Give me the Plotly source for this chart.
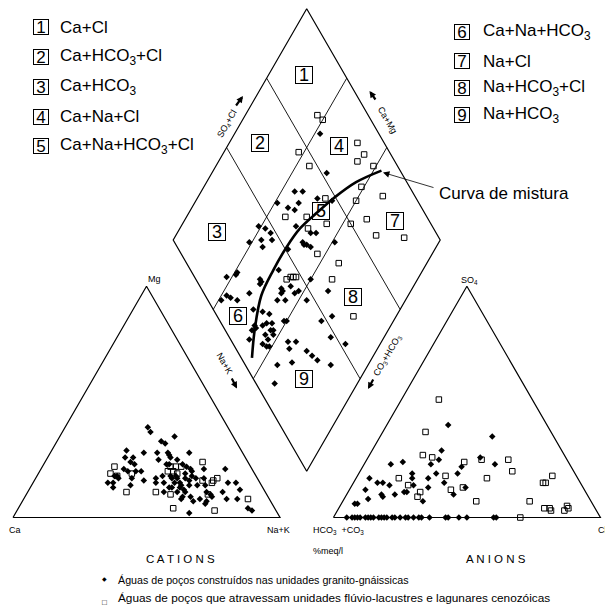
import numpy as np
import plotly.graph_objects as go

# ---------------- data (percent meq/l) ----------------
# diamond: SO4+Cl (%) and Ca+Mg (%)
dia_dot_so4cl = [78, 72, 56, 59, 47, 50, 55, 52, 63, 68, 49, 55, 53, 48, 48, 49, 50, 41, 60,
                 35, 37, 38, 33, 37, 32, 28, 17, 16, 12, 24, 24, 23, 33, 5, 8, 9, 11, 17, 30, 30,
                 34, 29, 36, 34, 26, 29, 37, 43, 47, 15, 18, 20, 24, 25, 12, 12, 15, 17, 19, 17,
                 18, 14, 14, 17, 10, 7, 11, 12, 13, 21, 24, 38, 43, 38, 26, 27, 28, 18, 42, 20,
                 12, 32, 7]
dia_dot_camg = [68, 57, 65, 62, 69, 64, 61, 61, 55, 49, 57, 48, 50, 51, 50, 49, 47, 55, 39,
                71, 68, 65, 67, 63, 65, 71, 69, 69, 72, 59, 58, 58, 54, 69, 68, 66, 63, 60, 49, 48,
                46, 48, 42, 43, 48, 45, 37, 40, 31, 55, 51, 48, 41, 40, 51, 50, 48, 47, 45, 44,
                43, 45, 43, 42, 51, 50, 44, 42, 41, 35, 32, 27, 24, 20, 26, 23, 20, 29, 13, 33,
                34, 14, 31]
dia_sq_so4cl = [81, 82, 66, 67, 90, 90, 86, 91, 82, 77, 88, 66, 47, 55, 61, 53, 70, 77, 77, 87,
                51, 57, 51, 51, 34, 36, 37, 38]
dia_sq_camg = [73, 70, 72, 65, 52, 47, 48, 41, 41, 40, 31, 52, 63, 55, 46, 52, 37, 32, 25, 14,
               43, 33, 32, 16, 49, 48, 47, 46]

# mixing curve (diamond coordinates)
curve_so4cl = [4, 11, 21, 31, 41, 50, 60, 69, 81, 93]
curve_camg = [45, 50, 55, 56, 56, 55, 52, 49, 44, 37]

# cation triangle: Mg (%) and Na+K (%)  (Ca = 100 - Mg - Na+K)
cat_dot_mg = [39, 37, 33, 32, 35, 29, 28, 28, 28, 27, 26, 28, 26, 26, 24, 23, 25, 25, 23, 23,
              23, 22, 21, 20, 21, 21, 20, 20, 20, 18, 15, 15, 13, 17, 16, 14, 17, 15, 18, 15,
              18, 17, 15, 18, 17, 15, 14, 19, 17, 16, 14, 18, 17, 14, 13, 13, 13, 12, 11, 11,
              8, 11, 17, 14, 9, 8, 11, 10, 7, 21, 15, 15, 11, 8, 8, 12, 9, 7, 6, 2, 9, 4, 3,
              17, 18]
cat_dot_nak = [31, 33, 39, 41, 43, 28, 35, 40, 44, 45, 46, 52, 29, 32, 32, 34, 42, 49, 46, 47,
               52, 54, 56, 57, 61, 31, 33, 36, 38, 30, 28, 30, 31, 36, 41, 37, 45, 46, 47, 49,
               50, 51, 53, 52, 53, 55, 56, 55, 56, 58, 59, 58, 60, 62, 52, 53, 56, 58, 59, 56,
               59, 51, 63, 65, 62, 66, 67, 69, 69, 69, 73, 76, 73, 76, 80, 79, 70, 64, 69, 65,
               59, 86, 88, 31, 29]
cat_sq_mg = [22, 19, 18, 19, 11, 11, 10, 22, 22, 22, 20, 20, 19, 24, 16, 15, 16, 17, 10, 8, 4, 3]
cat_sq_nak = [27, 27, 30, 35, 37, 48, 54, 48, 50, 52, 48, 50, 52, 59, 63, 67, 67, 68, 68, 84, 58, 74]

# anion triangle: SO4 (%) and Cl (%)  (HCO3+CO3 = 100 - SO4 - Cl)
an_dot_so4 = [40, 35, 29, 25, 26, 23, 24, 23, 23, 22, 19, 19, 19, 17, 17, 15, 17, 15, 15, 14,
              12, 11, 11, 14, 10, 10, 9, 8, 6, 6, 13, 7, 10, 13,
              0, 0, 0, 0, 0, 0, 0, 0, 0, 0, 0, 0, 0, 0, 0, 0, 0, 0, 0, 0, 0, 0, 0, 0, 0, 0, 0, 0]
an_dot_cl = [23, 42, 26, 27, 42, 49, 14, 10, 25, 37, 37, 29, 20, 21, 27, 34, 5, 9, 11, 14,
             6, 21, 22, 23, 18, 13, 14, 9, 5, 6, 29, 30, 40, 43,
             5, 7, 8, 9, 10, 12, 13, 14, 15, 17, 18, 19, 20, 22, 23, 25, 27, 28, 30, 32, 33, 36,
             42, 43, 47, 50, 60, 61]
an_sq_so4 = [51, 37, 27, 26, 24, 25, 25, 20, 17, 18, 17, 14, 11, 9, 12, 13, 7, 15, 15, 18, 7,
             4, 4, 3, 3, 5, 4, 0]
an_sq_cl = [14, 16, 20, 24, 37, 43, 53, 57, 49, 33, 16, 21, 27, 27, 38, 42, 50, 71, 72, 73, 70,
            77, 79, 80, 85, 85, 86, 70]

region_ids = ["1", "2", "3", "4", "5", "6", "7", "8", "9"]
region_names = ["Ca+Cl", "Ca+HCO<sub>3</sub>+Cl", "Ca+HCO<sub>3</sub>", "Ca+Na+Cl",
                "Ca+Na+HCO<sub>3</sub>+Cl", "Ca+Na+HCO<sub>3</sub>", "Na+Cl",
                "Na+HCO<sub>3</sub>+Cl", "Na+HCO<sub>3</sub>"]
legend_texts = ["Águas de poços construídos nas unidades granito-gnáissicas",
                "Águas de poços que atravessam unidades flúvio-lacustres e lagunares cenozóicas"]

# ---------------- geometry ----------------
SQ3 = np.sqrt(3.0)
H = 50 * SQ3
GAP = 20
AX0 = 100 + GAP
BX, BY = 110.0, GAP / 2 * SQ3
FONT = "Liberation Sans, Arial, sans-serif"

def cat_xy(mg, nak):
    mg = np.asarray(mg, float); nak = np.asarray(nak, float)
    return nak + mg / 2, mg * H / 100

def an_xy(so4, cl):
    so4 = np.asarray(so4, float); cl = np.asarray(cl, float)
    return AX0 + cl + so4 / 2, so4 * H / 100

def dia_xy(a, c):
    a = np.asarray(a, float); c = np.asarray(c, float)
    return BX + 0.5 * a - 0.5 * c, BY + (a + c) * H / 100

# pixel helper for text placement
PXU, OX, OY = 2.67, 13.0, 517.5
def P(px, py):
    return (px - OX) / PXU, (OY - py) / PXU

fig = go.Figure()

def line(xs, ys, w=1.2):
    fig.add_trace(go.Scatter(x=list(xs), y=list(ys), mode="lines",
                             line=dict(color="black", width=w), hoverinfo="skip"))

# outlines
line([0, 100, 50, 0], [0, 0, H, 0])
line([AX0, AX0 + 100, AX0 + 50, AX0], [0, 0, H, 0])
dx, dy = dia_xy([0, 100, 100, 0, 0], [0, 0, 100, 100, 0])
line(dx, dy)
# internal diamond lines
for v in (40, 70):
    x1, y1 = dia_xy([v, v], [0, 100]); line(x1, y1, 0.9)
    x2, y2 = dia_xy([0, 100], [v, v]); line(x2, y2, 0.9)

dot = dict(symbol="diamond", size=5, color="black", line=dict(width=0))
sq = dict(symbol="square-open", size=5.5, color="black", line=dict(width=1, color="black"))

def pts(xy, m):
    fig.add_trace(go.Scatter(x=xy[0], y=xy[1], mode="markers", marker=m, hoverinfo="skip"))

pts(dia_xy(dia_dot_so4cl, dia_dot_camg), dot)
pts(dia_xy(dia_sq_so4cl, dia_sq_camg), sq)
pts(cat_xy(cat_dot_mg, cat_dot_nak), dot)
pts(cat_xy(cat_sq_mg, cat_sq_nak), sq)
pts(an_xy(an_dot_so4, an_dot_cl), dot)
pts(an_xy(an_sq_so4, an_sq_cl), sq)

cx, cy = dia_xy(curve_so4cl, curve_camg)
fig.add_trace(go.Scatter(x=cx, y=cy, mode="lines", line=dict(color="black", width=2.6, shape="spline"),
                         hoverinfo="skip"))

ann = []
def txt(px, py, text, size, xa="center", ya="middle", angle=0, **kw):
    x, y = P(px, py)
    d = dict(x=x, y=y, xref="x", yref="y", text=text, showarrow=False,
             font=dict(size=size, family=FONT, color="black"), xanchor=xa, yanchor=ya,
             textangle=angle)
    d.update(kw)
    ann.append(d)

def box(px, py, text, size, w, h):
    txt(px, py, text, size, bordercolor="black", borderwidth=1, borderpad=0, width=w, height=h)

# region labels in the diamond
region_pix = [(303.7, 74.5), (260.3, 143.3), (216.5, 231.5), (339.3, 145.7), (320.7, 210.7),
              (238.3, 316.0), (395.3, 221.0), (353.3, 296.7), (304.3, 379.0)]
for rid, (px, py) in zip(region_ids, region_pix):
    box(px, py, rid, 18, 16, 16)

# class list
left_y = [27, 56.5, 86.5, 116.5, 145.5]
right_y = [32, 61, 88, 115]
for i in range(5):
    box(41, left_y[i], region_ids[i], 17, 14, 14)
    txt(58, left_y[i], region_names[i], 17, xa="left")
for i in range(4):
    box(462, right_y[i], region_ids[5 + i], 17, 14, 14)
    txt(481, right_y[i], region_names[5 + i], 17, xa="left")

# mixing curve label + leader arrow
txt(437, 193, "Curva de mistura", 17, xa="left")
hx, hy = P(383, 172.5)
tx, ty = P(435, 188)
ann.append(dict(x=hx, y=hy, xref="x", yref="y", ax=tx, ay=ty, axref="x", ayref="y", text="",
                showarrow=True, arrowhead=2, arrowsize=1.6, arrowwidth=0.8, arrowcolor="black"))

# axis labels on the diamond
txt(226.7, 124, "SO<sub>4</sub>+Cl", 9, angle=-60)
txt(387.3, 120, "Ca+Mg", 9, angle=60)
txt(224, 363.3, "Na+K", 9, angle=60)
txt(387.3, 355, "CO<sub>3</sub>+HCO<sub>3</sub>", 9, angle=-60)
for (hxp, hyp, axp, ayp) in [(243, 96, -8, 11), (369.5, 91, 7, 10), (237, 388.5, -6, -11.5),
                             (368, 389, 6, -11)]:
    x, y = P(hxp, hyp)
    ann.append(dict(x=x, y=y, xref="x", yref="y", ax=axp, ay=ayp, text="", showarrow=True,
                    arrowhead=2, arrowsize=0.6, arrowwidth=2.2, arrowcolor="black"))

# corner labels
txt(146, 279, "Mg", 9, xa="left")
txt(469, 280, "SO<sub>4</sub>", 9)
txt(15, 530, "Ca", 9)
txt(278, 530, "Na+K", 9)
txt(338, 530, "HCO<sub>3</sub>  +CO<sub>3</sub>", 9)
txt(596, 530, "Cl", 9, xa="left")
txt(328, 551, "%meq/l", 9)
txt(180, 559, "C A T I O N S", 11.5)
txt(496, 559, "A N I O N S", 11.5)

# legend
txt(104, 579, "◆", 6)
txt(116, 580, legend_texts[0], 10.7, xa="left")
txt(104, 602, "□", 8)
txt(116, 598, legend_texts[1], 11.8, xa="left")

x0, _ = P(0, 0); x1, _ = P(605, 0)
_, y0 = P(0, 606); _, y1 = P(0, 0)
fig.update_layout(width=605, height=606, autosize=False, margin=dict(l=0, r=0, t=0, b=0),
                  paper_bgcolor="white", plot_bgcolor="white", showlegend=False,
                  xaxis=dict(range=[x0, x1], visible=False, fixedrange=True),
                  yaxis=dict(range=[y0, y1], visible=False, fixedrange=True),
                  annotations=ann)
fig.write_html("out.html")
